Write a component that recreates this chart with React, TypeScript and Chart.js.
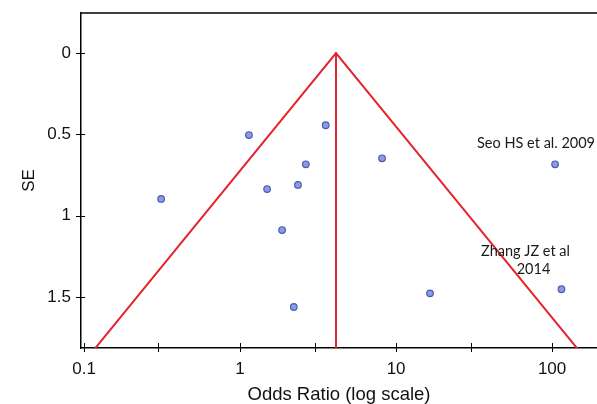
import React, { useEffect, useRef } from "react";
import { Chart, registerables } from "chart.js";

Chart.register(...registerables);

// Study estimates (odds ratio, standard error)
const studyOR = [1.14, 1.49, 2.35, 0.312, 1.86, 2.21, 3.54, 2.64, 8.13, 104.5, 16.5, 114.8];
const studySE = [0.504, 0.836, 0.811, 0.897, 1.088, 1.561, 0.444, 0.684, 0.647, 0.684, 1.477, 1.452];

// Funnel (pseudo 95% CI limits) and pooled estimate line
const funnelOR = [0.082, 4.12, 208];
const funnelSE = [2.0, 0, 2.0];
const pooledOR = [4.12, 4.12];
const pooledSE = [0, 2.0];

// Axis ticks
const xTickValues = [0.1, 0.3, 1, 3, 10, 30, 100];
const xTickLabels = ["0.1", "", "1", "", "10", "", "100"];
const yTickValues = [0, 0.5, 1, 1.5];
const yTickLabels = ["0", "0.5", "1", "1.5"];

// Annotations
const noteText = ["Seo HS et al. 2009", "Zhang JZ et al", "2014"];
const noteOR = [78.9, 67.5, 76];
const noteSE = [0.553, 1.217, 1.328];

const zeroPad = (s: any) => {
  s.paddingTop = 0;
  s.paddingBottom = 0;
  s.paddingLeft = 0;
  s.paddingRight = 0;
};

export default function App() {
  const ref = useRef<HTMLCanvasElement | null>(null);

  useEffect(() => {
    if (!ref.current) return;
    const frame = {
      id: "frame",
      afterDraw(chart: any) {
        const { ctx, chartArea } = chart;
        const xs = chart.scales.x;
        const ys = chart.scales.y;
        ctx.save();
        ctx.strokeStyle = "#000";
        ctx.lineWidth = 1.5;
        ctx.beginPath();
        ctx.moveTo(chartArea.left, chartArea.top);
        ctx.lineTo(chartArea.right, chartArea.top);
        ctx.stroke();
        ctx.lineWidth = 1;
        ctx.beginPath();
        xTickValues.forEach((v) => {
          const px = Math.round(xs.getPixelForValue(v)) + 0.5;
          ctx.moveTo(px, chartArea.bottom - 5);
          ctx.lineTo(px, chartArea.bottom + 4);
        });
        yTickValues.forEach((v) => {
          const py = Math.round(ys.getPixelForValue(v)) + 0.5;
          ctx.moveTo(chartArea.left - 5, py);
          ctx.lineTo(chartArea.left + 4, py);
        });
        ctx.stroke();
        ctx.fillStyle = "#1a1a1a";
        ctx.font = "14.5px Lato, 'Open Sans', sans-serif";
        ctx.textAlign = "center";
        ctx.textBaseline = "middle";
        noteText.forEach((t, i) => {
          ctx.fillText(t, xs.getPixelForValue(noteOR[i]), ys.getPixelForValue(noteSE[i]));
        });
        ctx.restore();
      },
    };

    const chart = new Chart(ref.current, {
      type: "scatter",
      data: {
        datasets: [
          {
            data: funnelOR.map((x, i) => ({ x, y: funnelSE[i] })),
            showLine: true,
            borderColor: "#e3242b",
            borderWidth: 2,
            pointRadius: 0,
            fill: false,
          },
          {
            data: pooledOR.map((x, i) => ({ x, y: pooledSE[i] })),
            showLine: true,
            borderColor: "#e3242b",
            borderWidth: 2,
            pointRadius: 0,
            fill: false,
          },
          {
            data: studyOR.map((x, i) => ({ x, y: studySE[i] })),
            pointRadius: 3.3,
            backgroundColor: "#8a9be3",
            borderColor: "#4a5bb3",
            borderWidth: 1.2,
          },
        ],
      },
      options: {
        responsive: false,
        animation: false,
        layout: { autoPadding: false, padding: { top: 13, right: 0, left: 0, bottom: 0 } },
        plugins: { legend: { display: false }, tooltip: { enabled: false } },
        scales: {
          x: {
            type: "logarithmic",
            min: 0.0956,
            max: 194,
            afterBuildTicks: (s: any) => {
              s.ticks = xTickValues.map((v) => ({ value: v }));
            },
            afterFit: (s: any) => {
              s.height = 56;
              zeroPad(s);
            },
            grid: { display: false, drawTicks: false },
            border: { display: true, color: "#000", width: 1.5 },
            ticks: {
              autoSkip: false,
              maxRotation: 0,
              padding: 11,
              color: "#111",
              font: { family: "'Liberation Sans', Arial, sans-serif", size: 17 },
              callback: (_v: any, i: number) => xTickLabels[i],
            },
            title: {
              display: true,
              text: "Odds Ratio (log scale)",
              color: "#111",
              padding: { top: 0, bottom: 0 },
              font: { family: "'Liberation Sans', Arial, sans-serif", size: 18.5, lineHeight: 1 },
            },
          },
          y: {
            type: "linear",
            reverse: true,
            min: -0.246,
            max: 1.813,
            afterBuildTicks: (s: any) => {
              s.ticks = yTickValues.map((v) => ({ value: v }));
            },
            afterFit: (s: any) => {
              s.width = 81;
              zeroPad(s);
            },
            grid: { display: false, drawTicks: false },
            border: { display: true, color: "#000", width: 1.5 },
            ticks: {
              autoSkip: false,
              padding: 10,
              color: "#111",
              font: { family: "'Liberation Sans', Arial, sans-serif", size: 17 },
              callback: (_v: any, i: number) => yTickLabels[i],
            },
            title: {
              display: true,
              text: "SE",
              color: "#111",
              padding: { top: 21, bottom: 0 },
              font: { family: "'Liberation Sans', Arial, sans-serif", size: 17, lineHeight: 1 },
            },
          },
        },
      },
      plugins: [frame],
    } as any);
    return () => chart.destroy();
  }, []);

  return (
    <div style={{ position: "absolute", left: 0, top: 0, width: 597, height: 404, background: "#fff" }}>
      <canvas ref={ref} width={597} height={404} />
    </div>
  );
}
